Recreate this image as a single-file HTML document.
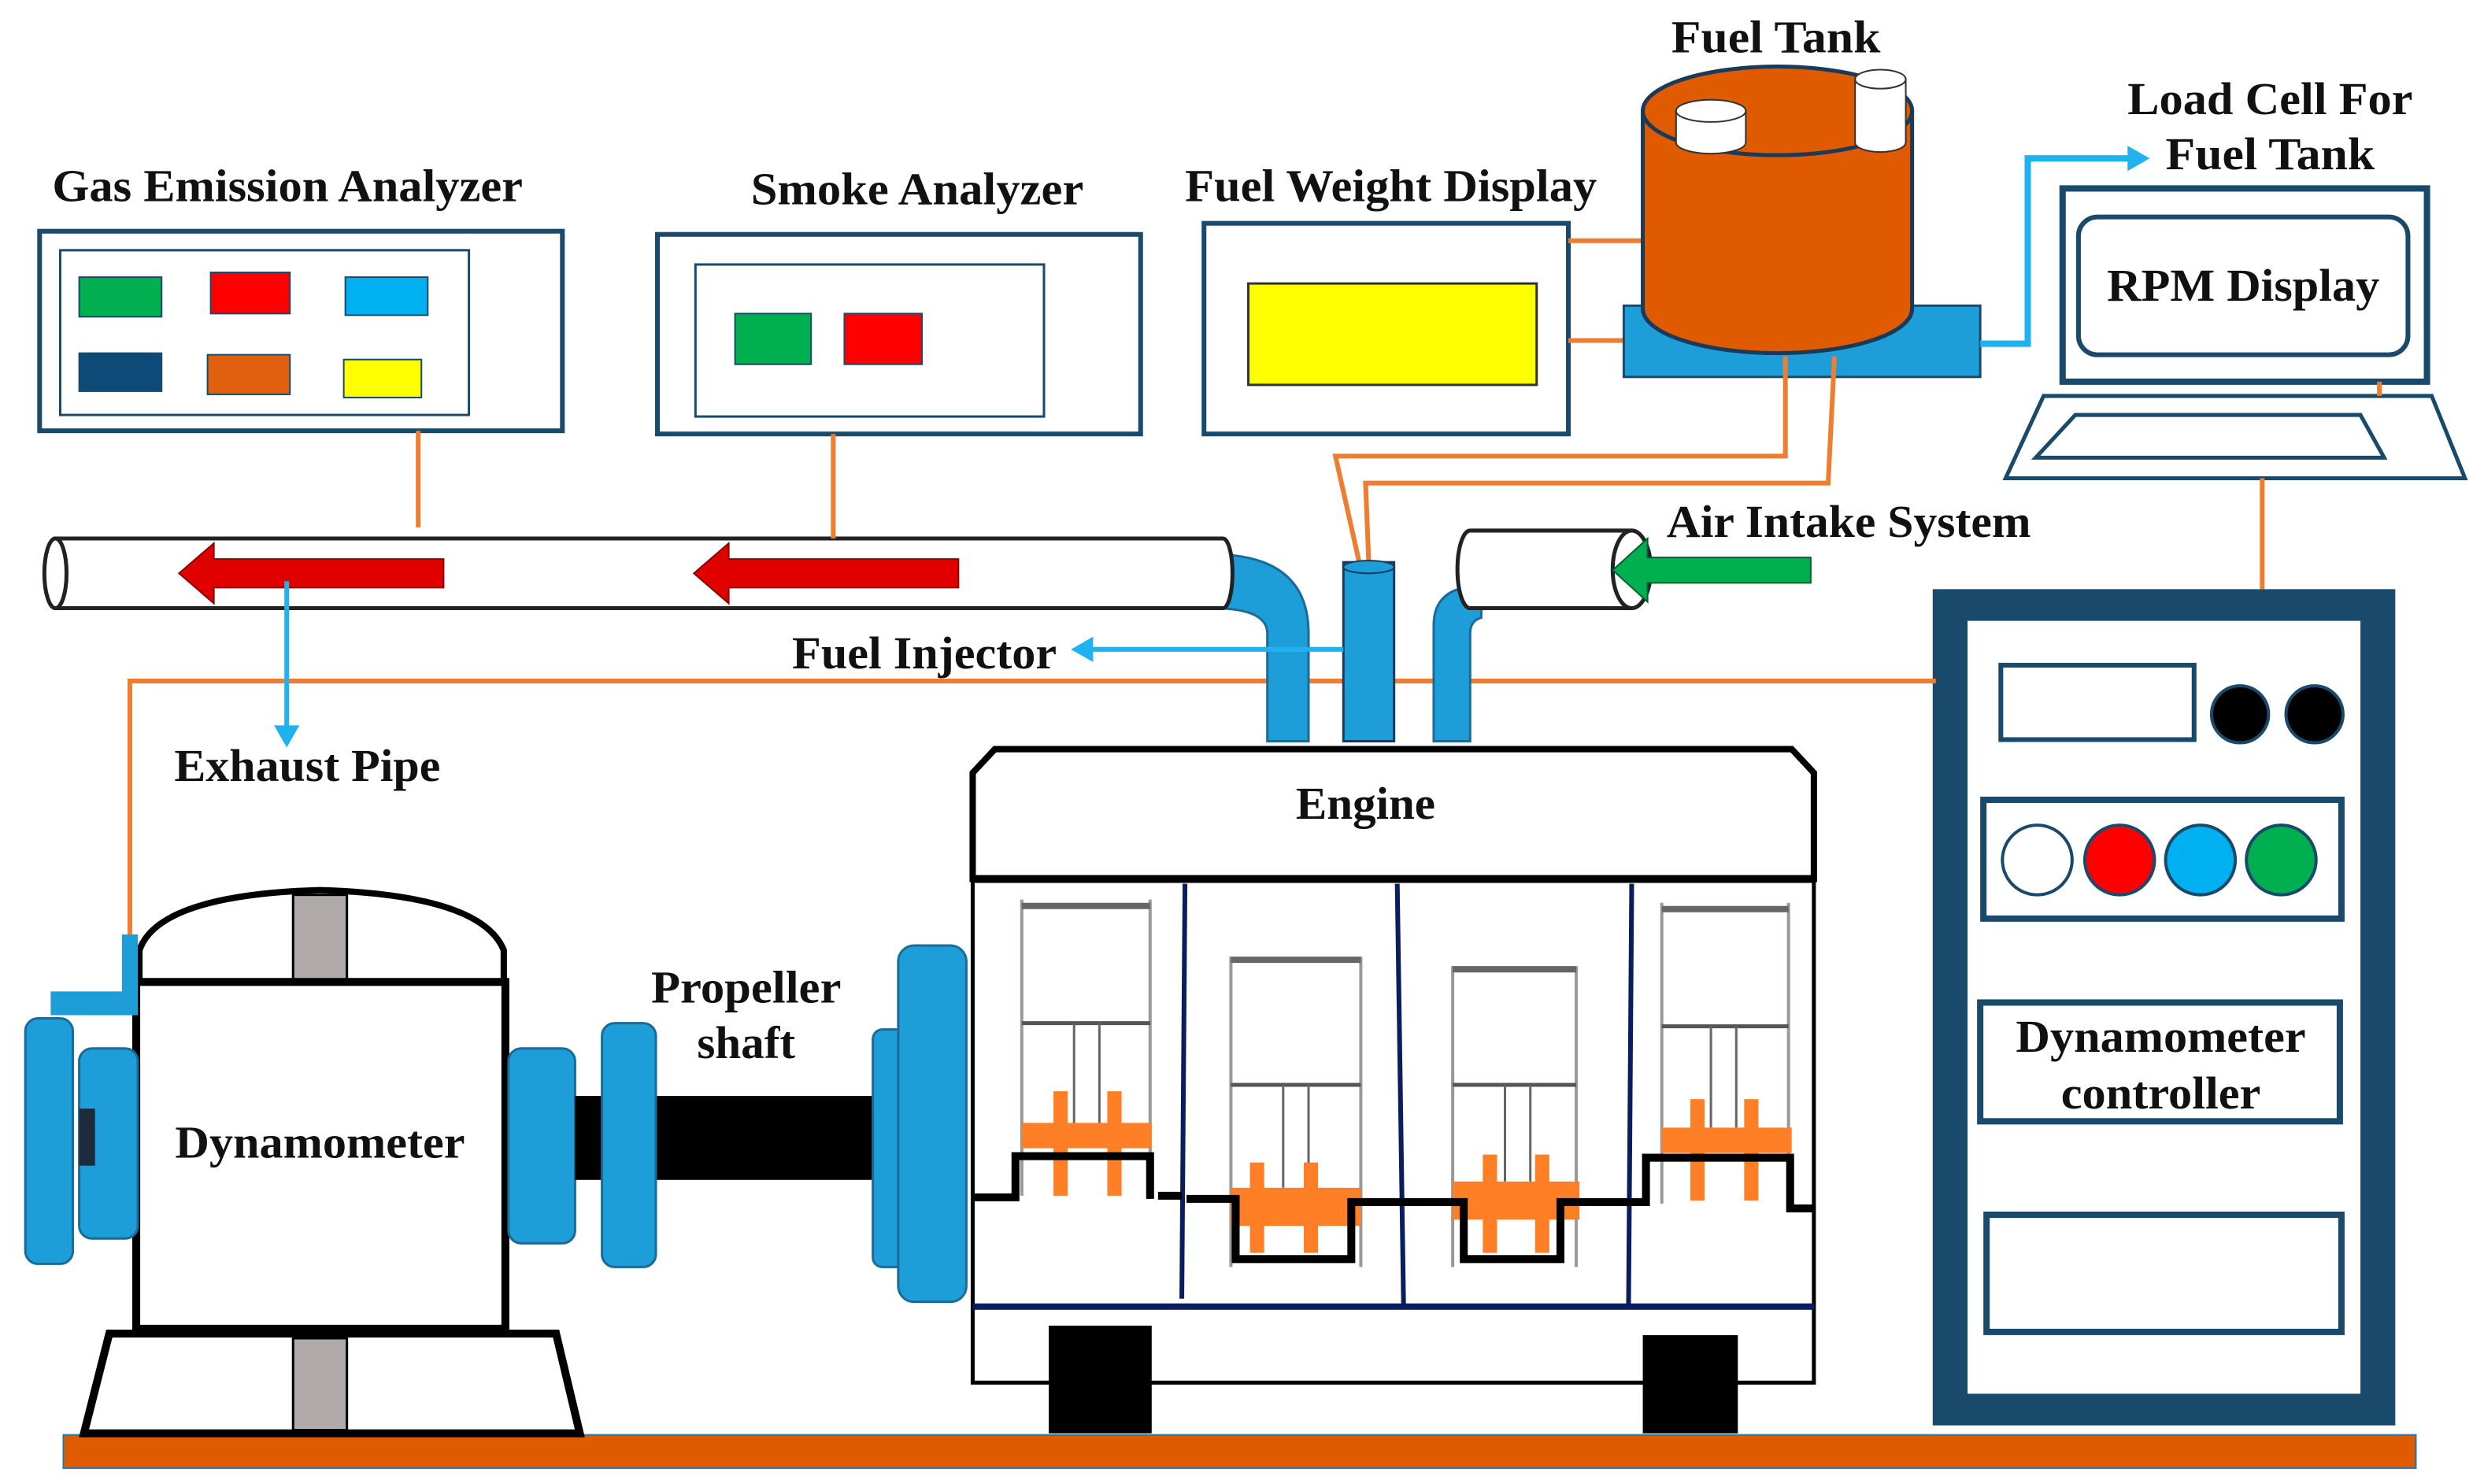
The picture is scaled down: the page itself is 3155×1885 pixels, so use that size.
<!DOCTYPE html>
<html><head><meta charset="utf-8"><style>html,body{margin:0;padding:0;background:#fff}svg{display:block}text{font-family:"Liberation Serif",serif;font-weight:bold;fill:#111}</style></head><body>
<svg width="3155" height="1885" viewBox="0 0 1568 937" preserveAspectRatio="none" xmlns="http://www.w3.org/2000/svg">
<rect width="1568" height="937" fill="#fff"/>
<!-- Gas Emission Analyzer -->
<text x="33" y="127" font-size="29" lengthAdjust="spacingAndGlyphs" textLength="297">Gas Emission Analyzer</text>
<rect x="25" y="146" width="330" height="126" fill="#fff" stroke="#1a4a6b" stroke-width="3"/>
<rect x="38" y="158" width="258" height="104" fill="none" stroke="#1a4a6b" stroke-width="1.5"/>
<rect x="50" y="175" width="52" height="25" fill="#00b050" stroke="#1a4a6b"/>
<rect x="133" y="172" width="50" height="26" fill="#ff0000" stroke="#1a4a6b"/>
<rect x="218" y="175" width="52" height="24" fill="#00b0f0" stroke="#1a4a6b"/>
<rect x="50" y="223" width="52" height="24" fill="#0d4a78" stroke="#1a4a6b"/>
<rect x="131" y="224" width="52" height="25" fill="#e06010" stroke="#1a4a6b"/>
<rect x="217" y="227" width="49" height="24" fill="#ffff00" stroke="#1a4a6b"/>
<!-- Smoke -->
<text x="474" y="129" font-size="29" lengthAdjust="spacingAndGlyphs" textLength="210">Smoke Analyzer</text>
<rect x="415" y="148" width="305" height="126" fill="#fff" stroke="#1a4a6b" stroke-width="3"/>
<rect x="439" y="167" width="220" height="96" fill="none" stroke="#1a4a6b" stroke-width="1.5"/>
<rect x="464" y="198" width="48" height="32" fill="#00b050" stroke="#1a4a6b"/>
<rect x="533" y="198" width="49" height="32" fill="#ff0000" stroke="#1a4a6b"/>
<!-- Fuel weight -->
<text x="748" y="127" font-size="29" lengthAdjust="spacingAndGlyphs" textLength="260">Fuel Weight Display</text>
<rect x="760" y="141" width="230" height="133" fill="#fff" stroke="#1a4a6b" stroke-width="3"/>
<rect x="788" y="179" width="182" height="64" fill="#ffff00" stroke="#333" stroke-width="1.5"/>
<line x1="990" y1="152" x2="1040" y2="152" stroke="#ed7d31" stroke-width="3"/>
<line x1="990" y1="215" x2="1030" y2="215" stroke="#ed7d31" stroke-width="3"/>
<!-- Fuel tank -->
<text x="1055" y="33" font-size="29" lengthAdjust="spacingAndGlyphs" textLength="132">Fuel Tank</text>
<rect x="1025" y="193" width="225" height="45" fill="#1e9ed8" stroke="#1a4a6b" stroke-width="1.5"/>
<path d="M1037 70 L1037 195 A85 28 0 0 0 1207 195 L1207 70 Z" fill="#e05a00" stroke="#1a3a5a" stroke-width="2.5"/>
<ellipse cx="1122" cy="70" rx="85" ry="28" fill="#e05a00" stroke="#1a3a5a" stroke-width="2.5"/>
<path d="M1058 70 L1058 90 A22 7 0 0 0 1102 90 L1102 70 Z" fill="#fff" stroke="#333"/>
<ellipse cx="1080" cy="70" rx="22" ry="7" fill="#fff" stroke="#333"/>
<path d="M1171 50 L1171 90 A16 6 0 0 0 1203 90 L1203 50 Z" fill="#fff" stroke="#333"/>
<ellipse cx="1187" cy="50" rx="16" ry="6" fill="#fff" stroke="#333"/>
<polyline points="1127,225 1127,288 843,288 858,355" fill="none" stroke="#ed7d31" stroke-width="3"/>
<polyline points="1158,225 1154,305 862,305 864,355" fill="none" stroke="#ed7d31" stroke-width="3"/>
<!-- load cell -->
<text x="1343" y="72" font-size="29" lengthAdjust="spacingAndGlyphs" textLength="180">Load Cell For</text>
<text x="1367" y="107" font-size="29" lengthAdjust="spacingAndGlyphs" textLength="132">Fuel Tank</text>
<polyline points="1250,217 1280,217 1280,100 1345,100" fill="none" stroke="#1fb2ee" stroke-width="4"/>
<polygon points="1343,92 1357,100 1343,108" fill="#1fb2ee"/>
<!-- monitor -->
<rect x="1302" y="119" width="230" height="122" fill="#fff" stroke="#1a4a6b" stroke-width="4"/>
<rect x="1312" y="137" width="208" height="87" rx="12" fill="#fff" stroke="#1a4a6b" stroke-width="3"/>
<text x="1416" y="190" font-size="29" text-anchor="middle" lengthAdjust="spacingAndGlyphs" textLength="172">RPM Display</text>
<polygon points="1290,250 1535,250 1556,302 1266,302" fill="#fff" stroke="#1a4a6b" stroke-width="2.5"/>
<polygon points="1310,262 1490,262 1505,289 1285,289" fill="#fff" stroke="#1a4a6b" stroke-width="2.5"/>
<line x1="1428" y1="302" x2="1428" y2="372" stroke="#ed7d31" stroke-width="3"/>
<line x1="1502" y1="241" x2="1502" y2="250" stroke="#ed7d31" stroke-width="3"/>
<!-- controller -->
<rect x="1220" y="372" width="292" height="528" fill="#1a4a6b"/>
<rect x="1242" y="392" width="248" height="488" fill="#fff"/>
<rect x="1263" y="420" width="122" height="47" fill="#fff" stroke="#1a4a6b" stroke-width="3"/>
<circle cx="1414" cy="451" r="18" fill="#000" stroke="#1a4a6b" stroke-width="2"/>
<circle cx="1461" cy="451" r="18" fill="#000" stroke="#1a4a6b" stroke-width="2"/>
<rect x="1252" y="505" width="226" height="75" fill="#fff" stroke="#1a4a6b" stroke-width="4"/>
<circle cx="1286" cy="543" r="22" fill="#fff" stroke="#1a4a6b" stroke-width="2"/>
<circle cx="1338" cy="543" r="22" fill="#ff0000" stroke="#1a4a6b" stroke-width="2"/>
<circle cx="1389" cy="543" r="22" fill="#00b0f0" stroke="#1a4a6b" stroke-width="2"/>
<circle cx="1440" cy="543" r="22" fill="#00b050" stroke="#1a4a6b" stroke-width="2"/>
<rect x="1250" y="633" width="227" height="75" fill="#fff" stroke="#1a4a6b" stroke-width="4"/>
<text x="1364" y="664" font-size="29" text-anchor="middle" lengthAdjust="spacingAndGlyphs" textLength="183">Dynamometer</text>
<text x="1364" y="700" font-size="29" text-anchor="middle" lengthAdjust="spacingAndGlyphs" textLength="126">controller</text>
<rect x="1254" y="767" width="224" height="74" fill="#fff" stroke="#1a4a6b" stroke-width="4"/>
<polyline points="1222,430 82,430 82,592" fill="none" stroke="#ed7d31" stroke-width="3"/>
<!-- exhaust pipe -->
<path d="M765 350 Q826 350 826 400 L826 468 L800 468 L800 400 Q800 384 765 384 Z" fill="#1e9ed8" stroke="#1a6a9a" stroke-width="1.5"/>
<path d="M35 340 L772 340 A6 22 0 0 1 772 384 L35 384 Z" fill="#fff" stroke="#222" stroke-width="2.5"/>
<ellipse cx="35" cy="362" rx="7" ry="22" fill="#fff" stroke="#222" stroke-width="2.5"/>
<polygon points="280,353 135,353 135,343 113,362 135,381 135,371 280,371" fill="#e00000" stroke="#8b0000" stroke-width="1"/>
<polygon points="605,353 460,353 460,343 438,362 460,381 460,371 605,371" fill="#e00000" stroke="#8b0000" stroke-width="1"/>
<line x1="264" y1="272" x2="264" y2="333" stroke="#ed7d31" stroke-width="3"/>
<line x1="526" y1="274" x2="526" y2="340" stroke="#ed7d31" stroke-width="3"/>
<line x1="181" y1="367" x2="181" y2="460" stroke="#1fb2ee" stroke-width="3"/>
<polygon points="173,458 181,472 189,458" fill="#1fb2ee"/>
<text x="110" y="493" font-size="29" lengthAdjust="spacingAndGlyphs" textLength="168">Exhaust Pipe</text>
<!-- injector -->
<rect x="848" y="355" width="32" height="113" fill="#1e9ed8" stroke="#1a3a5a" stroke-width="1.5"/>
<ellipse cx="864" cy="358" rx="16" ry="4" fill="#1e9ed8" stroke="#1a3a5a"/>
<text x="500" y="422" font-size="29" lengthAdjust="spacingAndGlyphs" textLength="167">Fuel Injector</text>
<line x1="848" y1="410" x2="688" y2="410" stroke="#1fb2ee" stroke-width="3"/>
<polygon points="690,402 676,410 690,418" fill="#1fb2ee"/>
<!-- air intake -->
<path d="M905 468 L905 395 Q905 370 935 370 L935 390 Q928 392 928 400 L928 468 Z" fill="#1e9ed8" stroke="#1a6a9a" stroke-width="1.5"/>
<path d="M928 335 L1030 335 A12 24.5 0 0 1 1030 384 L928 384 A8 24.5 0 0 1 928 335 Z" fill="#fff" stroke="#222" stroke-width="2.5"/>
<ellipse cx="1030" cy="359.5" rx="12" ry="24.5" fill="#fff" stroke="#222" stroke-width="2.5"/>
<polygon points="1143,352 1040,352 1040,340 1018,360 1040,380 1040,368 1143,368" fill="#00b050" stroke="#006030"/>
<text x="1052" y="339" font-size="29" lengthAdjust="spacingAndGlyphs" textLength="230">Air Intake System</text>
<!-- engine -->
<rect x="614" y="555" width="531" height="318" fill="#fff" stroke="#000" stroke-width="2.5"/>
<path d="M614 555 L614 488 L628 473 L1131 473 L1145 488 L1145 555 Z" fill="#fff" stroke="#000" stroke-width="4"/>
<line x1="614" y1="555" x2="1145" y2="555" stroke="#000" stroke-width="5"/>
<text x="862" y="517" font-size="29" text-anchor="middle" lengthAdjust="spacingAndGlyphs" textLength="88">Engine</text>
<line x1="614" y1="825" x2="1145" y2="825" stroke="#0a1e5e" stroke-width="4"/>
<line x1="748" y1="558" x2="746" y2="820" stroke="#0a1e5e" stroke-width="3"/>
<line x1="882" y1="558" x2="886" y2="825" stroke="#0a1e5e" stroke-width="3"/>
<line x1="1030" y1="558" x2="1028" y2="825" stroke="#0a1e5e" stroke-width="3"/>
<rect x="662" y="837" width="65" height="68" fill="#000"/>
<rect x="1037" y="843" width="60" height="62" fill="#000"/>
<g fill="none" stroke="#999" stroke-width="2">
<path d="M645 568 L645 755 M726 568 L726 755"/>
<path d="M777 604 L777 800 M859 604 L859 800"/>
<path d="M917 610 L917 800 M995 610 L995 800"/>
<path d="M1049 570 L1049 760 M1129 570 L1129 760"/>
</g>
<g stroke="#666" stroke-width="4">
<line x1="645" y1="572" x2="726" y2="572"/><line x1="777" y1="606" x2="859" y2="606"/>
<line x1="917" y1="612" x2="995" y2="612"/><line x1="1049" y1="574" x2="1129" y2="574"/>
</g>
<g stroke="#555" stroke-width="2.5">
<line x1="645" y1="646" x2="726" y2="646"/><line x1="777" y1="685" x2="859" y2="685"/>
<line x1="917" y1="685" x2="995" y2="685"/><line x1="1049" y1="648" x2="1129" y2="648"/>
</g>
<g stroke="#666" stroke-width="1.5">
<line x1="678" y1="646" x2="678" y2="710"/><line x1="694" y1="646" x2="694" y2="710"/>
<line x1="810" y1="685" x2="810" y2="750"/><line x1="826" y1="685" x2="826" y2="750"/>
<line x1="950" y1="685" x2="950" y2="746"/><line x1="966" y1="685" x2="966" y2="746"/>
<line x1="1080" y1="648" x2="1080" y2="712"/><line x1="1096" y1="648" x2="1096" y2="712"/>
</g>
<g fill="#ff7f27">
<rect x="645" y="709" width="82" height="16"/><rect x="665" y="689" width="9" height="66"/><rect x="699" y="689" width="9" height="66"/>
<rect x="777" y="750" width="82" height="24"/><rect x="789" y="734" width="9" height="57"/><rect x="823" y="734" width="9" height="57"/>
<rect x="917" y="746" width="80" height="24"/><rect x="936" y="729" width="9" height="62"/><rect x="969" y="729" width="9" height="62"/>
<rect x="1049" y="712" width="82" height="16"/><rect x="1067" y="694" width="9" height="64"/><rect x="1101" y="694" width="9" height="64"/>
</g>
<polyline points="614,756 641,756 641,730 726,730 726,757" fill="none" stroke="#000" stroke-width="5"/>
<line x1="731" y1="755" x2="746" y2="755" stroke="#000" stroke-width="5"/>
<polyline points="749,757 780,757 780,795 853,795 853,759 924,759 924,795 985,795 985,759 1039,759 1039,731 1130,731 1130,763 1145,763" fill="none" stroke="#000" stroke-width="5"/>
<!-- dynamometer -->
<rect x="40" y="906" width="1485" height="21" fill="#e05a00" stroke="#1a7ab0" stroke-width="1"/>
<path d="M88 620 L88 600 Q100 565 202 562 Q304 565 318 600 L318 620 Z" fill="#fff" stroke="#000" stroke-width="4"/>
<rect x="185" y="565" width="34" height="55" fill="#b0aaaa" stroke="#000" stroke-width="1.5"/>
<rect x="86" y="620" width="233" height="219" fill="#fff" stroke="#000" stroke-width="5"/>
<polygon points="69,842 351,842 366,905 53,905" fill="#fff" stroke="#000" stroke-width="5"/>
<rect x="185" y="845" width="34" height="58" fill="#b0aaaa" stroke="#000" stroke-width="1.5"/>
<text x="202" y="731" font-size="29" text-anchor="middle" lengthAdjust="spacingAndGlyphs" textLength="183">Dynamometer</text>
<rect x="77" y="590" width="10" height="51" fill="#1e9ed8"/>
<rect x="32" y="626" width="55" height="15" fill="#1e9ed8"/>
<g fill="#1e9ed8" stroke="#1a6a9a" stroke-width="1.5">
<rect x="16" y="643" width="30" height="155" rx="8"/>
<rect x="50" y="662" width="37" height="120" rx="8"/>
<rect x="321" y="662" width="42" height="123" rx="8"/>
</g>
<rect x="50" y="700" width="10" height="36" fill="#1c2a3a"/>
<rect x="363" y="692" width="192" height="53" fill="#000"/>
<g fill="#1e9ed8" stroke="#1a6a9a" stroke-width="1.5">
<rect x="380" y="646" width="34" height="154" rx="8"/>
<rect x="551" y="650" width="24" height="150" rx="6"/>
<rect x="567" y="597" width="43" height="225" rx="10"/>
</g>
<text x="471" y="633" font-size="29" text-anchor="middle" lengthAdjust="spacingAndGlyphs" textLength="120">Propeller</text>
<text x="471" y="668" font-size="29" text-anchor="middle" lengthAdjust="spacingAndGlyphs" textLength="62">shaft</text>
</svg>
</body></html>
